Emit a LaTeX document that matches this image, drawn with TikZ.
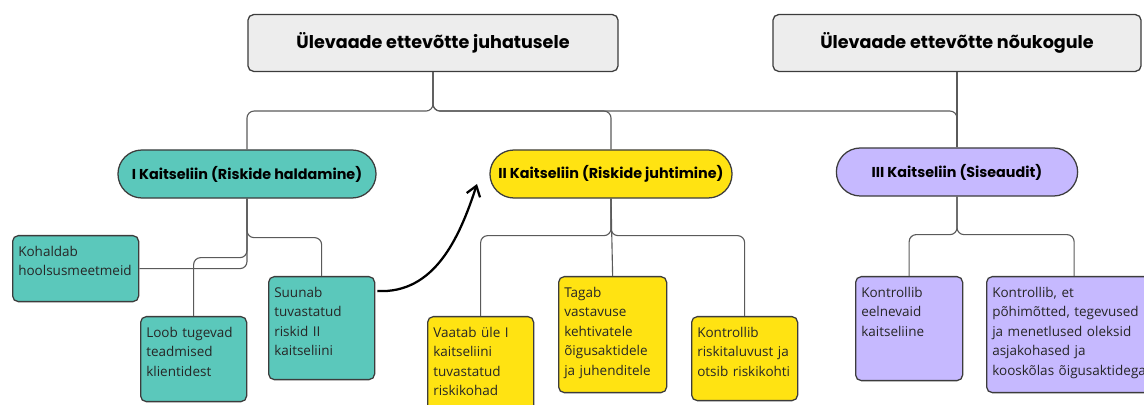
\documentclass[tikz,border=0pt]{standalone}
\usepackage{fontspec}
\setmainfont{Open Sans}
\newfontfamily\headfont{Poppins}
\usetikzlibrary{arrows.meta}
\definecolor{boxgray}{HTML}{EDEDED}
\definecolor{tealbox}{HTML}{5BC8BB}
\definecolor{yellbox}{HTML}{FFE312}
\definecolor{lavbox}{HTML}{C6B9FF}
\definecolor{edge}{HTML}{3C3C3C}
\definecolor{wirecol}{HTML}{5A5A5A}
% leaf: name (x,y) of top left corner, width, height (px), colour, text
\def\leaf#1(#2,#3)#4#5#6#7{%
  \node [leafbox,fill=#6,minimum width=#4*0.025cm,minimum height=#5*0.025cm] (#1) at (#2,#3) {};
  \node [leaftext] (#1-t) at ([xshift=0.15cm,yshift=-0.525cm]#1.north west) {#7};}

\begin{document}
\begin{tikzpicture}[x=0.025cm,y=-0.025cm,
  topbox/.style={draw=edge,line width=0.9pt,fill=boxgray,rounded corners=4pt,
    minimum height=1.42cm,font=\headfont\bfseries\fontsize{12.5}{14}\selectfont},
  pill/.style={draw=edge,line width=0.9pt,rounded corners=0.6cm,minimum height=1.2cm,
    font=\headfont\bfseries\fontsize{10.2}{12}\selectfont},
  leafbox/.style={draw=edge,line width=0.9pt,rounded corners=4pt,anchor=north west,inner sep=0pt},
  leaftext/.style={anchor=base west,inner sep=0pt,text width=5cm,align=left,
    font=\fontsize{9.6}{13.9}\selectfont,text=black!85},
  wire/.style={draw=wirecol,line width=0.8pt,rounded corners=5pt}]
\useasboundingbox (0,0) rectangle (1144,405);

\node [topbox,minimum width=9.25cm] (b1) at (433,43) {Ülevaade ettevõtte juhatusele};
\node [topbox,minimum width=9.2cm] (b2) at (957,43) {Ülevaade ettevõtte nõukogule};

\node [pill,fill=tealbox,minimum width=6.45cm] (p1) at (247,174) {I Kaitseliin (Riskide haldamine)};
\node [pill,fill=yellbox,minimum width=6.05cm] (p2) at (611,174) {II Kaitseliin (Riskide juhtimine)};
\node [pill,fill=lavbox,minimum width=6.03cm] (p3) at (957,172) {III Kaitseliin (Siseaudit)};

\foreach \p in {p1,p2,p3} \draw [wire] (b1.south) -- ++(0,39) -| (\p.north);
\draw [wire] (b2.south) -- (p3.north);

% I kaitseliin
\leaf{koh}(12,235){126}{66}{tealbox}{Kohaldab\\hoolsusmeetmeid}
\leaf{loob}(140,316){106}{85}{tealbox}{Loob tugevad\\teadmised\\klientidest}
\leaf{suun}(268,276){106}{103}{tealbox}{Suunab\\tuvastatud\\riskid II\\kaitseliini}
\draw [wire] (p1.south) |- (koh.east);
\draw [wire] (p1.south) -- ++(0,59) -| (loob.north);
\draw [wire] (p1.south) -- ++(0,39) -| (suun.north);

% II kaitseliin
\leaf{vaat}(427,316){106}{100}{yellbox}{Vaatab üle I\\kaitseliini\\tuvastatud\\riskikohad}
\leaf{tagab}(558,276){108}{116}{yellbox}{Tagab\\vastavuse\\kehtivatele\\õigusaktidele\\ja juhenditele}
\leaf{kontr}(691,316){106}{84}{yellbox}{Kontrollib\\riskitaluvust ja\\otsib riskikohti}
\foreach \n in {vaat,kontr} \draw [wire] (p2.south) -- ++(0,37) -| (\n.north);
\draw [wire] (p2.south) -- (tagab.north);

% III kaitseliin
\leaf{eeln}(855,276){107}{104}{lavbox}{Kontrollib\\eelnevaid\\kaitseliine}
\leaf{pohi}(986,276){175}{116}{lavbox}{Kontrollib, et\\põhimõtted, tegevused\\ja menetlused oleksid\\asjakohased ja\\kooskõlas õigusaktidega}
\foreach \n in {eeln,pohi} \draw [wire] (p3.south) -- ++(0,38) -| (\n.north);

% II kaitseliini suunamine
\coordinate (tip) at (477,184);
\draw [line width=1.6pt,-{Straight Barb[length=7pt,width=10pt]}]
  ([xshift=0.05cm,yshift=-0.375cm]suun.north east) to[out=-3,in=-108] (tip);
\end{tikzpicture}
\end{document}
